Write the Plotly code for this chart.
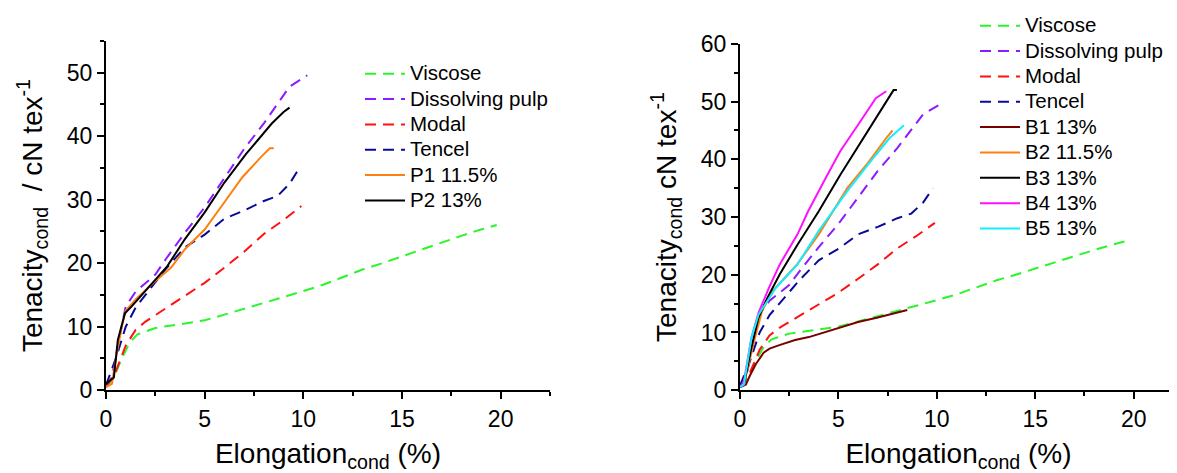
import plotly.graph_objects as go

# ---------------- data ----------------
viscose_x = [0, 0.4, 0.8, 1.2, 1.6, 2.5, 4, 5, 6, 7, 8, 9, 10, 11, 12, 13, 14, 15, 16, 17, 18, 19, 19.8]
viscose_y = [0.5, 2, 5, 7.5, 8.8, 9.8, 10.5, 11, 11.9, 12.8, 13.8, 14.7, 15.6, 16.6, 17.8, 19, 20, 21.1, 22.2, 23.3, 24.3, 25.3, 26]

pulp_x = [0, 0.3, 0.6, 1.0, 1.5, 2.5, 3, 4, 5, 6, 7, 8, 8.5, 9.3, 10.2]
pulp_y = [0.5, 2, 7, 13.2, 15.5, 18.2, 20.5, 24.8, 28.8, 33.5, 38, 42, 44.3, 47.8, 49.6]

modal_x = [0, 0.5, 1.0, 1.5, 2, 3, 4, 5, 6, 7, 8, 9, 9.9]
modal_y = [0.5, 3, 7, 9.5, 10.8, 12.8, 14.8, 16.9, 19.3, 21.8, 24.6, 26.8, 29]

tencel_x = [0, 0.5, 1, 1.5, 2, 3, 4, 5, 6, 7, 8, 8.7, 9.3, 9.8]
tencel_y = [0.8, 5, 10, 13, 15, 19, 22.5, 24.5, 27, 28.3, 29.8, 30.6, 32.5, 35]

p1_x = [0, 0.3, 0.5, 0.8, 1.0, 1.5, 2.4, 3.3, 4.0, 5.0, 6.0, 6.9, 7.85, 8.3, 8.5]
p1_y = [0.5, 1, 5, 10, 12.5, 14.3, 16.9, 19.3, 22.2, 25.3, 29.6, 33.5, 36.7, 38.1, 38.1]

p2_x = [0, 0.2, 0.4, 0.6, 0.96, 1.3, 2.2, 3.1, 4.0, 5.0, 6.0, 7.1, 8.4, 9.0, 9.3]
p2_y = [1, 1.5, 2, 7.9, 12.1, 13.2, 16.4, 19.5, 23.8, 28, 32.7, 37.2, 42, 43.8, 44.5]

b1_x = [0, 0.3, 0.5, 0.8, 1.2, 1.5, 2, 2.8, 3.5, 4, 5, 6, 7, 8, 8.5]
b1_y = [0.5, 1, 2.5, 4.5, 6.5, 7.2, 7.8, 8.7, 9.2, 9.7, 10.8, 11.8, 12.6, 13.4, 13.9]

b2_x = [0, 0.2, 0.4, 0.76, 1.12, 1.66, 2.9, 4.0, 5.45, 6.5, 7.5, 7.75]
b2_y = [0.5, 1, 3.9, 9.1, 13.7, 17.2, 21.8, 27, 35, 39.4, 44, 45]

b3_x = [0, 0.2, 0.58, 0.94, 1.39, 2.02, 2.92, 4.0, 5.09, 6.17, 7.25, 7.8, 7.97]
b3_y = [0.5, 1, 7.4, 12.6, 16, 20.1, 25.2, 31, 37.3, 43.1, 48.9, 52, 52]

b4_x = [0, 0.2, 0.58, 0.94, 1.48, 2.02, 2.92, 3.46, 4.36, 5.09, 6.0, 6.9, 7.43]
b4_y = [0.5, 1.5, 9.1, 13.4, 17.8, 21.8, 27, 31, 36.8, 41.4, 46, 50.6, 51.8]

b5_x = [0, 0.2, 0.58, 0.94, 1.84, 2.92, 4.0, 5.45, 6.5, 7.6, 8.33]
b5_y = [0.5, 1, 9.1, 13.1, 17.8, 21.8, 27.6, 34.5, 39.1, 43.7, 45.9]

x_ticks = [0, 5, 10, 15, 20]

# ---------------- figure ----------------
# the page body has an 8px margin, so the figure is laid out 8px smaller
W, H = 1169, 465
OFF = 8
FONT = "Arial, Liberation Sans, sans-serif"
DASH = "11px,7px"
LEG_TXT = 20.5

fig = go.Figure()

def label(s):
    return f'<span style="font-size:{LEG_TXT}px">{s}</span>'

def add(x, y, name, color, dash, xa, ya, legend, width=2):
    fig.add_trace(go.Scatter(
        x=x, y=y, name=label(name), mode="lines",
        line=dict(color=color, width=width, dash=dash),
        xaxis=xa, yaxis=ya, legend=legend,
    ))

refs = [
    (viscose_x, viscose_y, "Viscose", "#2af52a"),
    (pulp_x, pulp_y, "Dissolving pulp", "#8a1cff"),
    (modal_x, modal_y, "Modal", "#ff1111"),
    (tencel_x, tencel_y, "Tencel", "#0a0a99"),
]

for x, y, n, c in refs:
    add(x, y, n, c, DASH, "x", "y", "legend")
add(p1_x, p1_y, "P1 11.5%", "#ff7f0e", "solid", "x", "y", "legend")
add(p2_x, p2_y, "P2 13%", "#000000", "solid", "x", "y", "legend")

for x, y, n, c in refs:
    add(x, y, n, c, DASH, "x2", "y2", "legend2")
add(b1_x, b1_y, "B1 13%", "#7a0000", "solid", "x2", "y2", "legend2")
add(b2_x, b2_y, "B2 11.5%", "#ff7f0e", "solid", "x2", "y2", "legend2")
add(b3_x, b3_y, "B3 13%", "#000000", "solid", "x2", "y2", "legend2")
add(b4_x, b4_y, "B4 13%", "#ff11ff", "solid", "x2", "y2", "legend2")
add(b5_x, b5_y, "B5 13%", "#11eeff", "solid", "x2", "y2", "legend2")

def px_x(p):
    return (p - OFF) / W

def px_y(p):
    return 1 - (p - OFF) / H

axis_common = dict(
    showline=True, linecolor="black", linewidth=2,
    ticks="outside", ticklen=7, tickwidth=1.5, tickcolor="black",
    showgrid=False, zeroline=False, automargin=False,
    tickfont=dict(family=FONT, size=23, color="black"),
    mirror=False,
)
minor_common = dict(ticks="outside", ticklen=4, tickwidth=1.5, tickcolor="black")

xtitle = dict(text="Elongation<sub>cond</sub> (%)", font=dict(family=FONT, size=28, color="black"), standoff=16)

leg_common = dict(xanchor="left", yanchor="top", bgcolor="rgba(0,0,0,0)",
                  font=dict(family=FONT, size=17.2, color="black"),
                  itemwidth=40, tracegroupgap=0, maxheight=460)

fig.update_layout(
    width=W, height=H,
    paper_bgcolor="white", plot_bgcolor="white",
    margin=dict(l=0, r=0, t=0, b=0),
    font=dict(family=FONT, color="black"),
    xaxis=dict(domain=[px_x(106), px_x(550)], range=[0, 22.5], anchor="y",
               tickvals=x_ticks, minor=dict(tickvals=[2.5, 7.5, 12.5, 17.5, 22.5], **minor_common),
               title=xtitle, **axis_common),
    yaxis=dict(domain=[px_y(390), px_y(40)], range=[0, 55], anchor="x",
               dtick=10, minor=dict(dtick=5, **minor_common),
               title=dict(text="Tenacity<sub>cond</sub>  / cN tex<sup>-1</sup>", font=dict(family=FONT, size=28, color="black"), standoff=16),
               **axis_common),
    xaxis2=dict(domain=[px_x(740), 1.0], range=[0, 22.2], anchor="y2",
                tickvals=x_ticks, minor=dict(tickvals=[2.5, 7.5, 12.5, 17.5], **minor_common),
                title=xtitle, **axis_common),
    yaxis2=dict(domain=[px_y(390), px_y(43)], range=[0, 60], anchor="x2",
                dtick=10, minor=dict(dtick=5, **minor_common),
                title=dict(text="Tenacity<sub>cond</sub> cN tex<sup>-1</sup>", font=dict(family=FONT, size=28, color="black"), standoff=16),
                **axis_common),
    legend=dict(x=px_x(360), y=px_y(56), **leg_common),
    legend2=dict(x=px_x(975), y=px_y(7), **leg_common),
)

fig.write_html("out.html")
